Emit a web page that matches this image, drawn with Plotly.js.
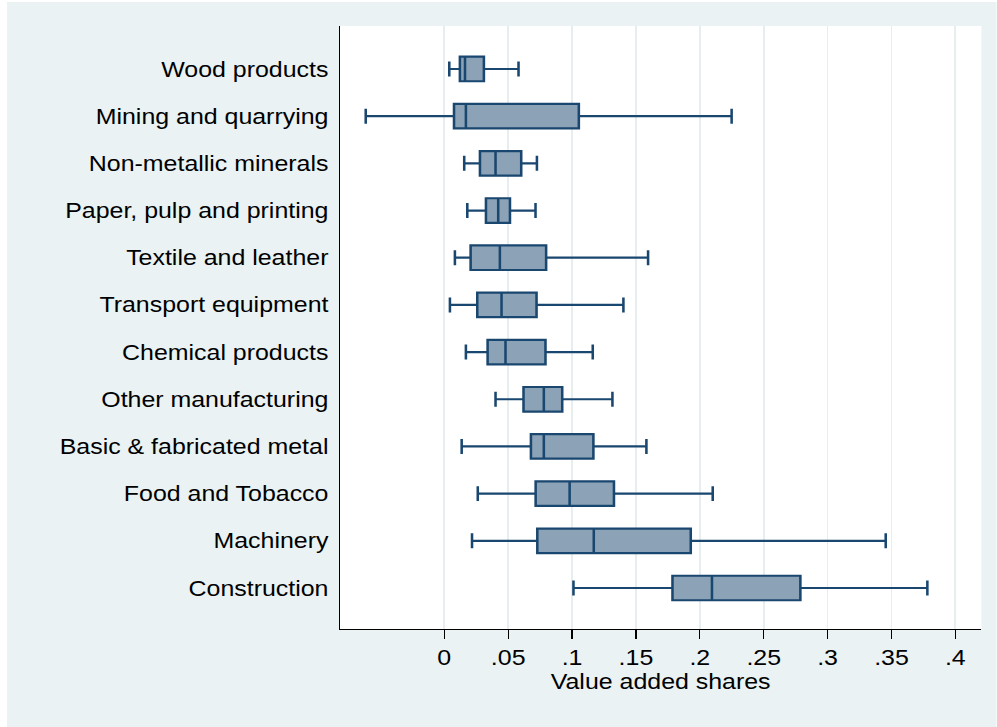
<!DOCTYPE html>
<html>
<head>
<meta charset="utf-8">
<script src="https://cdn.plot.ly/plotly-3.0.1.min.js"></script>
<style>
  html, body { margin: 0; padding: 0; background: #ffffff; overflow: hidden; }
  /* the chart is drawn narrow and widened with a horizontal stretch */
  #chart {
    position: absolute; left: 7px; top: 2px;
    width: 853.45px; height: 725px;
    transform: scaleX(1.16); transform-origin: 0 0;
  }
</style>
</head>
<body>
<div id="chart"></div>
<script>
// Industries, top to bottom
const industries = [
  'Wood products', 'Mining and quarrying', 'Non-metallic minerals',
  'Paper, pulp and printing', 'Textile and leather', 'Transport equipment',
  'Chemical products', 'Other manufacturing', 'Basic & fabricated metal',
  'Food and Tobacco', 'Machinery', 'Construction'
];

// Box-plot statistics of value added shares
const lowerWhisker = [0.0039, -0.0615, 0.0156, 0.0180, 0.0083, 0.0044, 0.0169, 0.0401, 0.0136, 0.0262, 0.0217, 0.1011];
const quartile1    = [0.0122,  0.0076, 0.0279, 0.0326, 0.0206, 0.0258, 0.0339, 0.0620, 0.0678, 0.0715, 0.0728, 0.1786];
const medians      = [0.0162,  0.0169, 0.0401, 0.0422, 0.0435, 0.0448, 0.0479, 0.0779, 0.0779, 0.0981, 0.1170, 0.2095];
const quartile3    = [0.0310,  0.1053, 0.0602, 0.0514, 0.0797, 0.0722, 0.0792, 0.0923, 0.1167, 0.1328, 0.1929, 0.2787];
const upperWhisker = [0.0581,  0.2249, 0.0725, 0.0714, 0.1595, 0.1402, 0.1162, 0.1316, 0.1582, 0.2101, 0.3455, 0.3781];

// x-axis ticks
const tickValues = [0, 0.05, 0.1, 0.15, 0.2, 0.25, 0.3, 0.35, 0.4];
const tickLabels = ['0', '.05', '.1', '.15', '.2', '.25', '.3', '.35', '.4'];

const navy = 'rgb(26,71,111)';
const navyFill = 'rgb(140,163,183)';

const trace = {
  type: 'box',
  orientation: 'h',
  y: industries,
  q1: quartile1,
  median: medians,
  q3: quartile3,
  lowerfence: lowerWhisker,
  upperfence: upperWhisker,
  boxpoints: false,
  width: 0.52,
  whiskerwidth: 0.61,
  fillcolor: navyFill,
  line: { color: navy, width: 2.2 },
  hoverinfo: 'skip',
  showlegend: false
};

const font = { family: '"Liberation Sans", Arial, sans-serif', size: 21.5, color: '#000000' };

const layout = {
  width: 853.45,
  height: 725,
  paper_bgcolor: '#EAF2F3',
  plot_bgcolor: '#ffffff',
  font: font,
  margin: { l: 286.6, r: 13.2, t: 24, b: 98, pad: 0 },
  showlegend: false,
  xaxis: {
    range: [-0.0817, 0.4204],
    tickmode: 'array',
    tickvals: tickValues,
    ticktext: tickLabels,
    ticks: 'outside',
    ticklen: 9,
    tickwidth: 1.1,
    tickcolor: '#000000',
    showline: true,
    linecolor: '#000000',
    linewidth: 1.2,
    showgrid: true,
    gridcolor: '#E6EEF0',
    gridwidth: 1.5,
    zeroline: false,
    tickfont: font,
    title: { text: 'Value added shares', font: font, standoff: 4 },
    automargin: false
  },
  yaxis: {
    type: 'category',
    categoryorder: 'array',
    categoryarray: industries,
    range: [11.869, -0.911],
    ticks: 'outside',
    ticklen: 4.4,
    tickcolor: 'rgba(0,0,0,0)',
    showline: true,
    linecolor: '#000000',
    linewidth: 1.2,
    showgrid: false,
    zeroline: false,
    tickfont: font,
    automargin: false
  }
};

Plotly.newPlot('chart', [trace], layout, { staticPlot: true, displayModeBar: false });
</script>
</body>
</html>
